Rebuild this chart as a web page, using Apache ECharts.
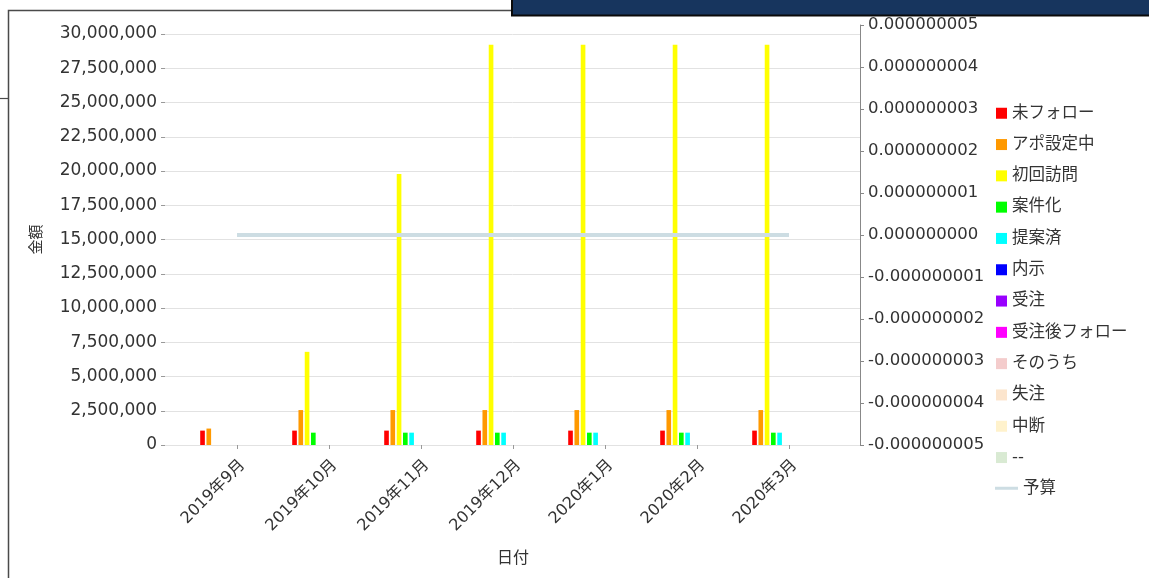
<!DOCTYPE html>
<html><head><meta charset="utf-8">
<script src="https://cdn.jsdelivr.net/npm/echarts@6/dist/echarts.min.js"></script>
<style>html,body{margin:0;padding:0;background:#fff}#c{width:1149px;height:578px}</style>
</head><body><div id="c"></div>
<script>
// ---- data ----
const categories = ['2019年9月','2019年10月','2019年11月','2019年12月','2020年1月','2020年2月','2020年3月'];
const seriesNames = ['未フォロー','アポ設定中','初回訪問','案件化','提案済','内示','受注','受注後フォロー','そのうち','失注','中断','--'];
const seriesColors = ['#ff0000','#ff9900','#ffff00','#00ff00','#00ffff','#0000ff','#9900ff','#ff00ff','#f4cccc','#fce5cd','#fff2cc','#d9ead3'];
const valMiFollow  = [1050000,1050000,1050000,1050000,1050000,1050000,1050000];
const valApo       = [1200000,2550000,2550000,2550000,2550000,2550000,2550000];
const valShokai    = [0,6800000,19780000,29220000,29220000,29220000,29220000];
const valAnken     = [0,900000,900000,900000,900000,900000,900000];
const valTeian     = [0,0,900000,900000,900000,900000,900000];
const valNaiji     = [0,0,0,0,0,0,0];
const valJuchu     = [0,0,0,0,0,0,0];
const valJuchuGo   = [0,0,0,0,0,0,0];
const valSonouchi  = [0,0,0,0,0,0,0];
const valShicchu   = [0,0,0,0,0,0,0];
const valChudan    = [0,0,0,0,0,0,0];
const valDash      = [0,0,0,0,0,0,0];
const budgetName = '予算';
const budget = [0,0,0,0,0,0,0];
const leftAxisMin = 0, leftAxisMax = 30000000, leftAxisStep = 2500000;
const rightAxisMin = -0.000000005, rightAxisMax = 0.000000005, rightAxisStep = 0.000000001;
const xAxisName = '日付';
const yAxisName = '金額';

const seriesValues = [valMiFollow,valApo,valShokai,valAnken,valTeian,valNaiji,valJuchu,valJuchuGo,valSonouchi,valShicchu,valChudan,valDash];

// ---- chart ----
const FONT = "'DejaVu Sans','Noto Sans CJK JP',sans-serif";
const chart = echarts.init(document.getElementById('c'));
const barSeries = seriesNames.map((n,i)=>({
  name:n, type:'bar', xAxisIndex:1, yAxisIndex:1,
  data: seriesValues[i], itemStyle:{color:seriesColors[i]},
  barCategoryGap:'20%', barGap:'35%'
}));
chart.setOption({
  animation:false,
  backgroundColor:'#ffffff',
  textStyle:{fontFamily:FONT},
  graphic:[
    {type:'rect', z:-1, shape:{x:8.5,y:10.5,width:1200,height:600}, style:{fill:'none',stroke:'#4a4a4a',lineWidth:1.5}},
    {type:'line', shape:{x1:0,y1:98.5,x2:8,y2:98.5}, style:{stroke:'#4a4a4a',lineWidth:1.2}},
    {type:'rect', shape:{x:512,y:-2,width:640,height:17.5}, style:{fill:'#17355e',stroke:'#0a0a0a',lineWidth:2}}
  ],
  grid:[
    {left:165, top:34, width:695, height:411},
    {left:191, top:34, width:644, height:411},
    {left:191, top:25, width:644, height:420}
  ],
  legend:[
    {data:seriesNames, orient:'vertical', left:996, top:105, padding:0, itemWidth:11, itemHeight:11, itemGap:14.8,
     icon:'rect', textStyle:{fontSize:16.5, color:'#333', fontFamily:FONT}},
    {data:[budgetName], orient:'vertical', left:995, top:480, padding:0, itemWidth:23, itemHeight:3,
     icon:'rect', textStyle:{fontSize:16.5, color:'#333', fontFamily:FONT}}
  ],
  xAxis:[
    {gridIndex:0, type:'category', data:categories, show:false},
    {gridIndex:1, type:'category', data:categories,
     axisLine:{show:false}, axisTick:{show:true, alignWithLabel:true, length:4, lineStyle:{color:'#999'}},
     axisLabel:{rotate:45, fontSize:16, color:'#333', margin:12, verticalAlign:'top', fontFamily:FONT},
     name:xAxisName, nameLocation:'middle', nameGap:106, nameTextStyle:{fontSize:16,color:'#333',fontFamily:FONT}},
    {gridIndex:2, type:'category', data:categories, show:false}
  ],
  yAxis:[
    {gridIndex:0, type:'value', min:leftAxisMin, max:leftAxisMax, interval:leftAxisStep,
     axisLine:{show:false}, axisTick:{show:true, length:4, lineStyle:{color:'#999'}},
     axisLabel:{fontSize:17, color:'#333', margin:8, fontFamily:FONT,
       formatter:v=>Math.round(v).toLocaleString('en-US')},
     splitLine:{lineStyle:{color:'#e2e2e2', width:1}},
     name:yAxisName, nameLocation:'middle', nameRotate:90, nameGap:120,
     nameTextStyle:{fontSize:15,color:'#333',fontFamily:FONT}},
    {gridIndex:1, type:'value', min:leftAxisMin, max:leftAxisMax, show:false, splitLine:{show:false}},
    {gridIndex:2, type:'value', position:'right', offset:25, min:rightAxisMin, max:rightAxisMax, interval:rightAxisStep,
     axisLine:{show:true, lineStyle:{color:'#888', width:1}}, axisTick:{show:true, length:4, lineStyle:{color:'#888'}},
     axisLabel:{fontSize:16.5, color:'#333', margin:8, fontFamily:FONT,
       formatter:v=>Math.abs(v)<1e-12 ? '0.000000000' : v.toFixed(9)},
     splitLine:{show:false}}
  ],
  series:[...barSeries,
    {name:budgetName, type:'line', xAxisIndex:2, yAxisIndex:2, data:budget, showSymbol:false, symbol:'none',
     itemStyle:{color:'#cddde3'}, lineStyle:{color:'#cddde3', width:4}}
  ]
});
</script></body></html>
